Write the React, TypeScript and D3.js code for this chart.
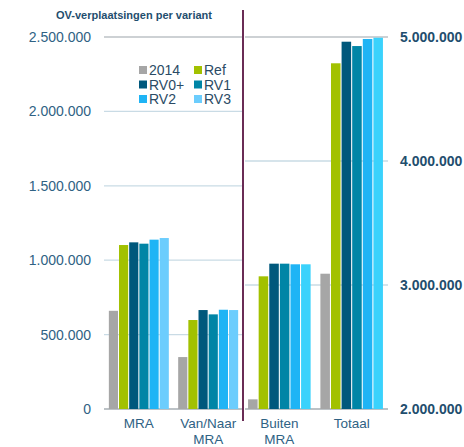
import React, {useRef, useEffect} from "react";
import * as d3 from "d3";

const series = ["2014", "Ref", "RV0+", "RV1", "RV2", "RV3"];
const seriesColors = ["#a6a6a6", "#a2c100", "#00587c", "#0085a6", "#1fb4f5", "#6ccdfd"];
const rightColors = ["#a6a6a6", "#a2c100", "#00587c", "#0085a6", "#1fb4f5", "#3ad2fc"];

const leftCats = ["MRA", "Van/Naar MRA"];
const leftValues = [
  [660000, 1102000, 1120000, 1111000, 1138000, 1149000],
  [349000, 598000, 665000, 636000, 667000, 665000],
];
const leftTicks = [0, 500000, 1000000, 1500000, 2000000, 2500000];

const rightCats = ["Buiten MRA", "Totaal"];
const rightValues = [
  [2078000, 3070000, 3172000, 3172000, 3167000, 3167000],
  [3091000, 4788000, 4962000, 4927000, 4984000, 4994000],
];
const rightTicks = [2000000, 3000000, 4000000, 5000000];

const title = "OV-verplaatsingen per variant";

const nl = d3.formatLocale({decimal: ",", thousands: ".", grouping: [3], currency: ["€", ""]});
const fmt = nl.format(",d");

export default function App() {
  const svgRef = useRef<SVGSVGElement>(null);

  useEffect(() => {
    const svg = d3.select(svgRef.current);
    svg.selectAll("*").remove();

    const top = 37, bottom = 409;
    const font = "Arial, 'Liberation Sans', sans-serif";

    const drawPanel = (cats, values, ticks, domain, x0, x1, colors, isLeft) => {
      const y = d3.scaleLinear().domain(domain).range([bottom, top]);
      const xb = d3.scaleBand().domain(cats).range([x0, x1]).paddingInner(0.135).paddingOuter(0.07);
      const xs = d3.scaleBand().domain(series).range([0, xb.bandwidth()]).paddingInner(0.1);

      const g = svg.append("g");
      g.selectAll(".grid")
        .data(ticks)
        .join("line")
        .attr("x1", isLeft ? x0 : x0 + 2)
        .attr("x2", x1)
        .attr("y1", (d) => y(d))
        .attr("y2", (d) => y(d))
        .attr("stroke", (d, i) => (i === 0 || i === ticks.length - 1 ? "#bcc2c6" : "#c9dbe5"))
        .attr("stroke-width", (d, i) => (i === 0 ? 2 : 1.3));

      g.selectAll(".tick-label")
        .data(ticks)
        .join("text")
        .attr("x", isLeft ? 91 : 400)
        .attr("y", (d) => y(d))
        .attr("dy", "0.36em")
        .attr("text-anchor", isLeft ? "end" : "start")
        .style("font-family", font)
        .style("font-size", "14px")
        .style("font-weight", isLeft ? "normal" : "bold")
        .style("fill", isLeft ? "#2f6284" : "#1f4e6e")
        .text((d) => fmt(d));

      cats.forEach((c, ci) => {
        g.append("g")
          .attr("transform", `translate(${xb(c)},0)`)
          .selectAll("rect")
          .data(values[ci])
          .join("rect")
          .attr("x", (d, i) => xs(series[i]))
          .attr("width", xs.bandwidth())
          .attr("y", (d) => y(d))
          .attr("height", (d) => bottom - y(d))
          .attr("fill", (d, i) => colors[i]);

        // category label, one text per line
        const words = c === "Van/Naar MRA" ? ["Van/Naar", "MRA"] : c.split(" ");
        g.append("g")
          .selectAll("text")
          .data(words)
          .join("text")
          .attr("x", xb(c) + xb.bandwidth() / 2)
          .attr("y", (d, i) => 428 + i * 16)
          .attr("text-anchor", "middle")
          .style("font-family", font)
          .style("font-size", "13.5px")
          .style("fill", "#2f6284")
          .text((d) => d);
      });
    };

    drawPanel(leftCats, leftValues, leftTicks, [0, 2500000], 104, 243, seriesColors, true);
    drawPanel(rightCats, rightValues, rightTicks, [2000000, 5000000], 243, 388, rightColors, false);

    // divider
    svg.append("line")
      .attr("x1", 243).attr("x2", 243)
      .attr("y1", 10).attr("y2", 421)
      .attr("stroke", "#6a2c55")
      .attr("stroke-width", 2);

    // title
    svg.append("text")
      .attr("x", 134)
      .attr("y", 19)
      .attr("text-anchor", "middle")
      .style("font-family", font)
      .style("font-size", "11px")
      .style("font-weight", "bold")
      .style("fill", "#1f4e6e")
      .text(title);

    // legend
    const legend = svg.append("g");
    series.forEach((s, i) => {
      const col = i % 2, row = Math.floor(i / 2);
      const lx = 139 + col * 55, ly = 70 + row * 14.5;
      legend.append("rect")
        .attr("x", lx).attr("y", ly - 4)
        .attr("width", 8).attr("height", 8)
        .attr("fill", seriesColors[i]);
      legend.append("text")
        .attr("x", lx + 10).attr("y", ly)
        .attr("dy", "0.36em")
        .style("font-family", font)
        .style("font-size", "14px")
        .style("fill", "#2b4b65")
        .text(s);
    });
  }, []);

  return (
    <svg
      ref={svgRef}
      width={464}
      height={447}
      style={{position: "absolute", left: 0, top: 0, background: "#fff"}}
    />
  );
}
